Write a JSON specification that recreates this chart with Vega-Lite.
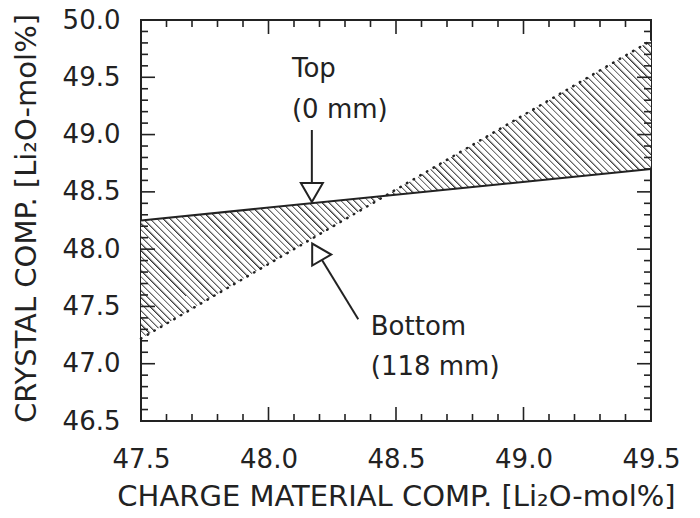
{
"$schema":"https://vega.github.io/schema/vega-lite/v6.json",
"autosize":{"type":"none"},
"padding":{"left":141,"top":20,"right":49,"bottom":97},
"width":510,"height":401,
"background":"white",
"config":{
 "view":{"stroke":"#222","strokeWidth":2},
 "axis":{"domain":false,"grid":false,"ticks":false,"labelFont":"DejaVu Sans","labelFontSize":26,"labelColor":"#222","titleFont":"DejaVu Sans","titleFontSize":29,"titleFontWeight":"normal","titleColor":"#222","labelOverlap":false,"labelFlush":false}
},
"resolve":{"axis":{"x":"independent","y":"independent"}},
"datasets":{
 "lines":[{"x":47.5,"top":48.25,"bottom":47.22},{"x":49.5,"top":48.70,"bottom":49.82}],
 "xmaj":[{"t":47.5},{"t":48.0},{"t":48.5},{"t":49.0},{"t":49.5}],
 "xmin":[{"t":47.6},{"t":47.7},{"t":47.8},{"t":47.9},{"t":48.1},{"t":48.2},{"t":48.3},{"t":48.4},{"t":48.6},{"t":48.7},{"t":48.8},{"t":48.9},{"t":49.1},{"t":49.2},{"t":49.3},{"t":49.4}],
 "ymaj":[{"t":46.5},{"t":47.0},{"t":47.5},{"t":48.0},{"t":48.5},{"t":49.0},{"t":49.5},{"t":50.0}],
 "ymin":[{"t":46.6},{"t":46.7},{"t":46.8},{"t":46.9},{"t":47.1},{"t":47.2},{"t":47.3},{"t":47.4},{"t":47.6},{"t":47.7},{"t":47.8},{"t":47.9},{"t":48.1},{"t":48.2},{"t":48.3},{"t":48.4},{"t":48.6},{"t":48.7},{"t":48.8},{"t":48.9},{"t":49.1},{"t":49.2},{"t":49.3},{"t":49.4},{"t":49.6},{"t":49.7},{"t":49.8},{"t":49.9}]
},
"layer":[
{
 "data":{"name":"lines"},
 "mark":{"type":"area","color":{"gradient":"linear","x1":0,"y1":1,"x2":1.181,"y2":0.31,"stops":[
{"offset":0.00,"color":"#333"},{"offset":0.00333,"color":"#fff"},{"offset":0.00833,"color":"#fff"},
{"offset":0.00833,"color":"#333"},{"offset":0.01167,"color":"#fff"},{"offset":0.01667,"color":"#fff"},
{"offset":0.01667,"color":"#333"},{"offset":0.02,"color":"#fff"},{"offset":0.025,"color":"#fff"},
{"offset":0.025,"color":"#333"},{"offset":0.02833,"color":"#fff"},{"offset":0.03333,"color":"#fff"},
{"offset":0.03333,"color":"#333"},{"offset":0.03667,"color":"#fff"},{"offset":0.04167,"color":"#fff"},
{"offset":0.04167,"color":"#333"},{"offset":0.045,"color":"#fff"},{"offset":0.05,"color":"#fff"},
{"offset":0.05,"color":"#333"},{"offset":0.05333,"color":"#fff"},{"offset":0.05833,"color":"#fff"},
{"offset":0.05833,"color":"#333"},{"offset":0.06167,"color":"#fff"},{"offset":0.06667,"color":"#fff"},
{"offset":0.06667,"color":"#333"},{"offset":0.07,"color":"#fff"},{"offset":0.075,"color":"#fff"},
{"offset":0.075,"color":"#333"},{"offset":0.07833,"color":"#fff"},{"offset":0.08333,"color":"#fff"},
{"offset":0.08333,"color":"#333"},{"offset":0.08667,"color":"#fff"},{"offset":0.09167,"color":"#fff"},
{"offset":0.09167,"color":"#333"},{"offset":0.095,"color":"#fff"},{"offset":0.1,"color":"#fff"},
{"offset":0.10,"color":"#333"},{"offset":0.10333,"color":"#fff"},{"offset":0.10833,"color":"#fff"},
{"offset":0.10833,"color":"#333"},{"offset":0.11167,"color":"#fff"},{"offset":0.11667,"color":"#fff"},
{"offset":0.11667,"color":"#333"},{"offset":0.12,"color":"#fff"},{"offset":0.125,"color":"#fff"},
{"offset":0.125,"color":"#333"},{"offset":0.12833,"color":"#fff"},{"offset":0.13333,"color":"#fff"},
{"offset":0.13333,"color":"#333"},{"offset":0.13667,"color":"#fff"},{"offset":0.14167,"color":"#fff"},
{"offset":0.14167,"color":"#333"},{"offset":0.145,"color":"#fff"},{"offset":0.15,"color":"#fff"},
{"offset":0.15,"color":"#333"},{"offset":0.15333,"color":"#fff"},{"offset":0.15833,"color":"#fff"},
{"offset":0.15833,"color":"#333"},{"offset":0.16167,"color":"#fff"},{"offset":0.16667,"color":"#fff"},
{"offset":0.16667,"color":"#333"},{"offset":0.17,"color":"#fff"},{"offset":0.175,"color":"#fff"},
{"offset":0.175,"color":"#333"},{"offset":0.17833,"color":"#fff"},{"offset":0.18333,"color":"#fff"},
{"offset":0.18333,"color":"#333"},{"offset":0.18667,"color":"#fff"},{"offset":0.19167,"color":"#fff"},
{"offset":0.19167,"color":"#333"},{"offset":0.195,"color":"#fff"},{"offset":0.2,"color":"#fff"},
{"offset":0.20,"color":"#333"},{"offset":0.20333,"color":"#fff"},{"offset":0.20833,"color":"#fff"},
{"offset":0.20833,"color":"#333"},{"offset":0.21167,"color":"#fff"},{"offset":0.21667,"color":"#fff"},
{"offset":0.21667,"color":"#333"},{"offset":0.22,"color":"#fff"},{"offset":0.225,"color":"#fff"},
{"offset":0.225,"color":"#333"},{"offset":0.22833,"color":"#fff"},{"offset":0.23333,"color":"#fff"},
{"offset":0.23333,"color":"#333"},{"offset":0.23667,"color":"#fff"},{"offset":0.24167,"color":"#fff"},
{"offset":0.24167,"color":"#333"},{"offset":0.245,"color":"#fff"},{"offset":0.25,"color":"#fff"},
{"offset":0.25,"color":"#333"},{"offset":0.25333,"color":"#fff"},{"offset":0.25833,"color":"#fff"},
{"offset":0.25833,"color":"#333"},{"offset":0.26167,"color":"#fff"},{"offset":0.26667,"color":"#fff"},
{"offset":0.26667,"color":"#333"},{"offset":0.27,"color":"#fff"},{"offset":0.275,"color":"#fff"},
{"offset":0.275,"color":"#333"},{"offset":0.27833,"color":"#fff"},{"offset":0.28333,"color":"#fff"},
{"offset":0.28333,"color":"#333"},{"offset":0.28667,"color":"#fff"},{"offset":0.29167,"color":"#fff"},
{"offset":0.29167,"color":"#333"},{"offset":0.295,"color":"#fff"},{"offset":0.3,"color":"#fff"},
{"offset":0.30,"color":"#333"},{"offset":0.30333,"color":"#fff"},{"offset":0.30833,"color":"#fff"},
{"offset":0.30833,"color":"#333"},{"offset":0.31167,"color":"#fff"},{"offset":0.31667,"color":"#fff"},
{"offset":0.31667,"color":"#333"},{"offset":0.32,"color":"#fff"},{"offset":0.325,"color":"#fff"},
{"offset":0.325,"color":"#333"},{"offset":0.32833,"color":"#fff"},{"offset":0.33333,"color":"#fff"},
{"offset":0.33333,"color":"#333"},{"offset":0.33667,"color":"#fff"},{"offset":0.34167,"color":"#fff"},
{"offset":0.34167,"color":"#333"},{"offset":0.345,"color":"#fff"},{"offset":0.35,"color":"#fff"},
{"offset":0.35,"color":"#333"},{"offset":0.35333,"color":"#fff"},{"offset":0.35833,"color":"#fff"},
{"offset":0.35833,"color":"#333"},{"offset":0.36167,"color":"#fff"},{"offset":0.36667,"color":"#fff"},
{"offset":0.36667,"color":"#333"},{"offset":0.37,"color":"#fff"},{"offset":0.375,"color":"#fff"},
{"offset":0.375,"color":"#333"},{"offset":0.37833,"color":"#fff"},{"offset":0.38333,"color":"#fff"},
{"offset":0.38333,"color":"#333"},{"offset":0.38667,"color":"#fff"},{"offset":0.39167,"color":"#fff"},
{"offset":0.39167,"color":"#333"},{"offset":0.395,"color":"#fff"},{"offset":0.4,"color":"#fff"},
{"offset":0.40,"color":"#333"},{"offset":0.40333,"color":"#fff"},{"offset":0.40833,"color":"#fff"},
{"offset":0.40833,"color":"#333"},{"offset":0.41167,"color":"#fff"},{"offset":0.41667,"color":"#fff"},
{"offset":0.41667,"color":"#333"},{"offset":0.42,"color":"#fff"},{"offset":0.425,"color":"#fff"},
{"offset":0.425,"color":"#333"},{"offset":0.42833,"color":"#fff"},{"offset":0.43333,"color":"#fff"},
{"offset":0.43333,"color":"#333"},{"offset":0.43667,"color":"#fff"},{"offset":0.44167,"color":"#fff"},
{"offset":0.44167,"color":"#333"},{"offset":0.445,"color":"#fff"},{"offset":0.45,"color":"#fff"},
{"offset":0.45,"color":"#333"},{"offset":0.45333,"color":"#fff"},{"offset":0.45833,"color":"#fff"},
{"offset":0.45833,"color":"#333"},{"offset":0.46167,"color":"#fff"},{"offset":0.46667,"color":"#fff"},
{"offset":0.46667,"color":"#333"},{"offset":0.47,"color":"#fff"},{"offset":0.475,"color":"#fff"},
{"offset":0.475,"color":"#333"},{"offset":0.47833,"color":"#fff"},{"offset":0.48333,"color":"#fff"},
{"offset":0.48333,"color":"#333"},{"offset":0.48667,"color":"#fff"},{"offset":0.49167,"color":"#fff"},
{"offset":0.49167,"color":"#333"},{"offset":0.495,"color":"#fff"},{"offset":0.5,"color":"#fff"},
{"offset":0.50,"color":"#333"},{"offset":0.50333,"color":"#fff"},{"offset":0.50833,"color":"#fff"},
{"offset":0.50833,"color":"#333"},{"offset":0.51167,"color":"#fff"},{"offset":0.51667,"color":"#fff"},
{"offset":0.51667,"color":"#333"},{"offset":0.52,"color":"#fff"},{"offset":0.525,"color":"#fff"},
{"offset":0.525,"color":"#333"},{"offset":0.52833,"color":"#fff"},{"offset":0.53333,"color":"#fff"},
{"offset":0.53333,"color":"#333"},{"offset":0.53667,"color":"#fff"},{"offset":0.54167,"color":"#fff"},
{"offset":0.54167,"color":"#333"},{"offset":0.545,"color":"#fff"},{"offset":0.55,"color":"#fff"},
{"offset":0.55,"color":"#333"},{"offset":0.55333,"color":"#fff"},{"offset":0.55833,"color":"#fff"},
{"offset":0.55833,"color":"#333"},{"offset":0.56167,"color":"#fff"},{"offset":0.56667,"color":"#fff"},
{"offset":0.56667,"color":"#333"},{"offset":0.57,"color":"#fff"},{"offset":0.575,"color":"#fff"},
{"offset":0.575,"color":"#333"},{"offset":0.57833,"color":"#fff"},{"offset":0.58333,"color":"#fff"},
{"offset":0.58333,"color":"#333"},{"offset":0.58667,"color":"#fff"},{"offset":0.59167,"color":"#fff"},
{"offset":0.59167,"color":"#333"},{"offset":0.595,"color":"#fff"},{"offset":0.6,"color":"#fff"},
{"offset":0.60,"color":"#333"},{"offset":0.60333,"color":"#fff"},{"offset":0.60833,"color":"#fff"},
{"offset":0.60833,"color":"#333"},{"offset":0.61167,"color":"#fff"},{"offset":0.61667,"color":"#fff"},
{"offset":0.61667,"color":"#333"},{"offset":0.62,"color":"#fff"},{"offset":0.625,"color":"#fff"},
{"offset":0.625,"color":"#333"},{"offset":0.62833,"color":"#fff"},{"offset":0.63333,"color":"#fff"},
{"offset":0.63333,"color":"#333"},{"offset":0.63667,"color":"#fff"},{"offset":0.64167,"color":"#fff"},
{"offset":0.64167,"color":"#333"},{"offset":0.645,"color":"#fff"},{"offset":0.65,"color":"#fff"},
{"offset":0.65,"color":"#333"},{"offset":0.65333,"color":"#fff"},{"offset":0.65833,"color":"#fff"},
{"offset":0.65833,"color":"#333"},{"offset":0.66167,"color":"#fff"},{"offset":0.66667,"color":"#fff"},
{"offset":0.66667,"color":"#333"},{"offset":0.67,"color":"#fff"},{"offset":0.675,"color":"#fff"},
{"offset":0.675,"color":"#333"},{"offset":0.67833,"color":"#fff"},{"offset":0.68333,"color":"#fff"},
{"offset":0.68333,"color":"#333"},{"offset":0.68667,"color":"#fff"},{"offset":0.69167,"color":"#fff"},
{"offset":0.69167,"color":"#333"},{"offset":0.695,"color":"#fff"},{"offset":0.7,"color":"#fff"},
{"offset":0.70,"color":"#333"},{"offset":0.70333,"color":"#fff"},{"offset":0.70833,"color":"#fff"},
{"offset":0.70833,"color":"#333"},{"offset":0.71167,"color":"#fff"},{"offset":0.71667,"color":"#fff"},
{"offset":0.71667,"color":"#333"},{"offset":0.72,"color":"#fff"},{"offset":0.725,"color":"#fff"},
{"offset":0.725,"color":"#333"},{"offset":0.72833,"color":"#fff"},{"offset":0.73333,"color":"#fff"},
{"offset":0.73333,"color":"#333"},{"offset":0.73667,"color":"#fff"},{"offset":0.74167,"color":"#fff"},
{"offset":0.74167,"color":"#333"},{"offset":0.745,"color":"#fff"},{"offset":0.75,"color":"#fff"},
{"offset":0.75,"color":"#333"},{"offset":0.75333,"color":"#fff"},{"offset":0.75833,"color":"#fff"},
{"offset":0.75833,"color":"#333"},{"offset":0.76167,"color":"#fff"},{"offset":0.76667,"color":"#fff"},
{"offset":0.76667,"color":"#333"},{"offset":0.77,"color":"#fff"},{"offset":0.775,"color":"#fff"},
{"offset":0.775,"color":"#333"},{"offset":0.77833,"color":"#fff"},{"offset":0.78333,"color":"#fff"},
{"offset":0.78333,"color":"#333"},{"offset":0.78667,"color":"#fff"},{"offset":0.79167,"color":"#fff"},
{"offset":0.79167,"color":"#333"},{"offset":0.795,"color":"#fff"},{"offset":0.8,"color":"#fff"},
{"offset":0.80,"color":"#333"},{"offset":0.80333,"color":"#fff"},{"offset":0.80833,"color":"#fff"},
{"offset":0.80833,"color":"#333"},{"offset":0.81167,"color":"#fff"},{"offset":0.81667,"color":"#fff"},
{"offset":0.81667,"color":"#333"},{"offset":0.82,"color":"#fff"},{"offset":0.825,"color":"#fff"},
{"offset":0.825,"color":"#333"},{"offset":0.82833,"color":"#fff"},{"offset":0.83333,"color":"#fff"},
{"offset":0.83333,"color":"#333"},{"offset":0.83667,"color":"#fff"},{"offset":0.84167,"color":"#fff"},
{"offset":0.84167,"color":"#333"},{"offset":0.845,"color":"#fff"},{"offset":0.85,"color":"#fff"},
{"offset":0.85,"color":"#333"},{"offset":0.85333,"color":"#fff"},{"offset":0.85833,"color":"#fff"},
{"offset":0.85833,"color":"#333"},{"offset":0.86167,"color":"#fff"},{"offset":0.86667,"color":"#fff"},
{"offset":0.86667,"color":"#333"},{"offset":0.87,"color":"#fff"},{"offset":0.875,"color":"#fff"},
{"offset":0.875,"color":"#333"},{"offset":0.87833,"color":"#fff"},{"offset":0.88333,"color":"#fff"},
{"offset":0.88333,"color":"#333"},{"offset":0.88667,"color":"#fff"},{"offset":0.89167,"color":"#fff"},
{"offset":0.89167,"color":"#333"},{"offset":0.895,"color":"#fff"},{"offset":0.9,"color":"#fff"},
{"offset":0.90,"color":"#333"},{"offset":0.90333,"color":"#fff"},{"offset":0.90833,"color":"#fff"},
{"offset":0.90833,"color":"#333"},{"offset":0.91167,"color":"#fff"},{"offset":0.91667,"color":"#fff"},
{"offset":0.91667,"color":"#333"},{"offset":0.92,"color":"#fff"},{"offset":0.925,"color":"#fff"},
{"offset":0.925,"color":"#333"},{"offset":0.92833,"color":"#fff"},{"offset":0.93333,"color":"#fff"},
{"offset":0.93333,"color":"#333"},{"offset":0.93667,"color":"#fff"},{"offset":0.94167,"color":"#fff"},
{"offset":0.94167,"color":"#333"},{"offset":0.945,"color":"#fff"},{"offset":0.95,"color":"#fff"},
{"offset":0.95,"color":"#333"},{"offset":0.95333,"color":"#fff"},{"offset":0.95833,"color":"#fff"},
{"offset":0.95833,"color":"#333"},{"offset":0.96167,"color":"#fff"},{"offset":0.96667,"color":"#fff"},
{"offset":0.96667,"color":"#333"},{"offset":0.97,"color":"#fff"},{"offset":0.975,"color":"#fff"},
{"offset":0.975,"color":"#333"},{"offset":0.97833,"color":"#fff"},{"offset":0.98333,"color":"#fff"},
{"offset":0.98333,"color":"#333"},{"offset":0.98667,"color":"#fff"},{"offset":0.99167,"color":"#fff"},
{"offset":0.99167,"color":"#333"},{"offset":0.995,"color":"#fff"},{"offset":1,"color":"#fff"}
 ]}},
 "encoding":{
  "x":{"field":"x","type":"quantitative","scale":{"domain":[47.5,49.5],"nice":false,"zero":false},
   "axis":{"orient":"bottom","title":"CHARGE MATERIAL COMP. [Li₂O-mol%]","values":[47.5,48.0,48.5,49.0,49.5],"format":".1f",
    "labelPadding":25.5,"labelBaseline":"top","titleX":255,"titleY":84,"titleBaseline":"alphabetic","titleAlign":"center"}},
  "y":{"field":"top","type":"quantitative","scale":{"domain":[46.5,50.0],"nice":false,"zero":false},
   "axis":{"orient":"left","title":"CRYSTAL COMP. [Li₂O-mol%]","values":[46.5,47.0,47.5,48.0,48.5,49.0,49.5,50.0],"format":".1f",
    "labelPadding":21,"titleX":-106,"titleY":198,"titleAngle":270,"titleBaseline":"alphabetic","titleAlign":"center"}},
  "y2":{"field":"bottom"}
 }
},
{
 "data":{"name":"lines"},
 "mark":{"type":"line","color":"#222","strokeWidth":2},
 "encoding":{
  "x":{"field":"x","type":"quantitative","scale":{"domain":[47.5,49.5],"nice":false,"zero":false},"axis":null},
  "y":{"field":"top","type":"quantitative","scale":{"domain":[46.5,50.0],"nice":false,"zero":false},"axis":null}
 }
},
{
 "data":{"name":"lines"},
 "mark":{"type":"line","color":"#222","strokeWidth":2.5,"strokeDash":[0.5,7.2],"strokeCap":"round"},
 "encoding":{
  "x":{"field":"x","type":"quantitative","scale":{"domain":[47.5,49.5],"nice":false,"zero":false},"axis":null},
  "y":{"field":"bottom","type":"quantitative","scale":{"domain":[46.5,50.0],"nice":false,"zero":false},"axis":null}
 }
},
{
 "data":{"name":"xmaj"},
 "mark":{"type":"rule","color":"#222","strokeWidth":1.6,"y2Offset":-14},
 "encoding":{"x":{"field":"t","type":"quantitative","axis":null},"y":{"datum":46.5,"type":"quantitative","axis":null},"y2":{"datum":46.5}}
},
{
 "data":{"name":"xmaj"},
 "mark":{"type":"rule","color":"#222","strokeWidth":1.6,"y2Offset":14},
 "encoding":{"x":{"field":"t","type":"quantitative","axis":null},"y":{"datum":50.0,"type":"quantitative","axis":null},"y2":{"datum":50.0}}
},
{
 "data":{"name":"xmin"},
 "mark":{"type":"rule","color":"#222","strokeWidth":1.6,"y2Offset":-7},
 "encoding":{"x":{"field":"t","type":"quantitative","axis":null},"y":{"datum":46.5,"type":"quantitative","axis":null},"y2":{"datum":46.5}}
},
{
 "data":{"name":"xmin"},
 "mark":{"type":"rule","color":"#222","strokeWidth":1.6,"y2Offset":7},
 "encoding":{"x":{"field":"t","type":"quantitative","axis":null},"y":{"datum":50.0,"type":"quantitative","axis":null},"y2":{"datum":50.0}}
},
{
 "data":{"name":"ymaj"},
 "mark":{"type":"rule","color":"#222","strokeWidth":1.6,"x2Offset":14},
 "encoding":{"y":{"field":"t","type":"quantitative","axis":null},"x":{"datum":47.5,"type":"quantitative","axis":null},"x2":{"datum":47.5}}
},
{
 "data":{"name":"ymaj"},
 "mark":{"type":"rule","color":"#222","strokeWidth":1.6,"x2Offset":-14},
 "encoding":{"y":{"field":"t","type":"quantitative","axis":null},"x":{"datum":49.5,"type":"quantitative","axis":null},"x2":{"datum":49.5}}
},
{
 "data":{"name":"ymin"},
 "mark":{"type":"rule","color":"#222","strokeWidth":1.6,"x2Offset":7},
 "encoding":{"y":{"field":"t","type":"quantitative","axis":null},"x":{"datum":47.5,"type":"quantitative","axis":null},"x2":{"datum":47.5}}
},
{
 "data":{"name":"ymin"},
 "mark":{"type":"rule","color":"#222","strokeWidth":1.6,"x2Offset":-7},
 "encoding":{"y":{"field":"t","type":"quantitative","axis":null},"x":{"datum":49.5,"type":"quantitative","axis":null},"x2":{"datum":49.5}}
},
{
 "data":{"values":[{"x":48.17,"y":49.04,"x2":48.17,"y2":48.494},{"x":48.352,"y":47.388,"x2":48.19,"y2":47.977}]},
 "mark":{"type":"rule","color":"#222","strokeWidth":2},
 "encoding":{
  "x":{"field":"x","type":"quantitative","axis":null},
  "y":{"field":"y","type":"quantitative","axis":null},
  "x2":{"field":"x2"},
  "y2":{"field":"y2"}
 }
},
{
 "data":{"values":[{"x":48.17,"y":48.494}]},
 "mark":{"type":"point","shape":"triangle-down","size":484,"filled":true,"fill":"white","stroke":"#222","strokeWidth":2,"opacity":1},
 "encoding":{
  "x":{"field":"x","type":"quantitative","axis":null},
  "y":{"field":"y","type":"quantitative","axis":null}
 }
},
{
 "data":{"values":[{"x":48.19,"y":47.977}]},
 "mark":{"type":"point","shape":"triangle-up","angle":330,"size":484,"filled":true,"fill":"white","stroke":"#222","strokeWidth":2,"opacity":1},
 "encoding":{
  "x":{"field":"x","type":"quantitative","axis":null},
  "y":{"field":"y","type":"quantitative","axis":null}
 }
},
{
 "data":{"values":[{"x":48.092,"y":49.502,"label":"Top\n(0 mm)"},{"x":48.401,"y":47.251,"label":"Bottom\n(118 mm)"}]},
 "mark":{"type":"text","font":"DejaVu Sans","fontSize":26,"color":"#222","align":"left","baseline":"alphabetic","lineBreak":"\n","lineHeight":40.5},
 "encoding":{
  "x":{"field":"x","type":"quantitative","axis":null},
  "y":{"field":"y","type":"quantitative","axis":null},
  "text":{"field":"label"}
 }
}
]
}
